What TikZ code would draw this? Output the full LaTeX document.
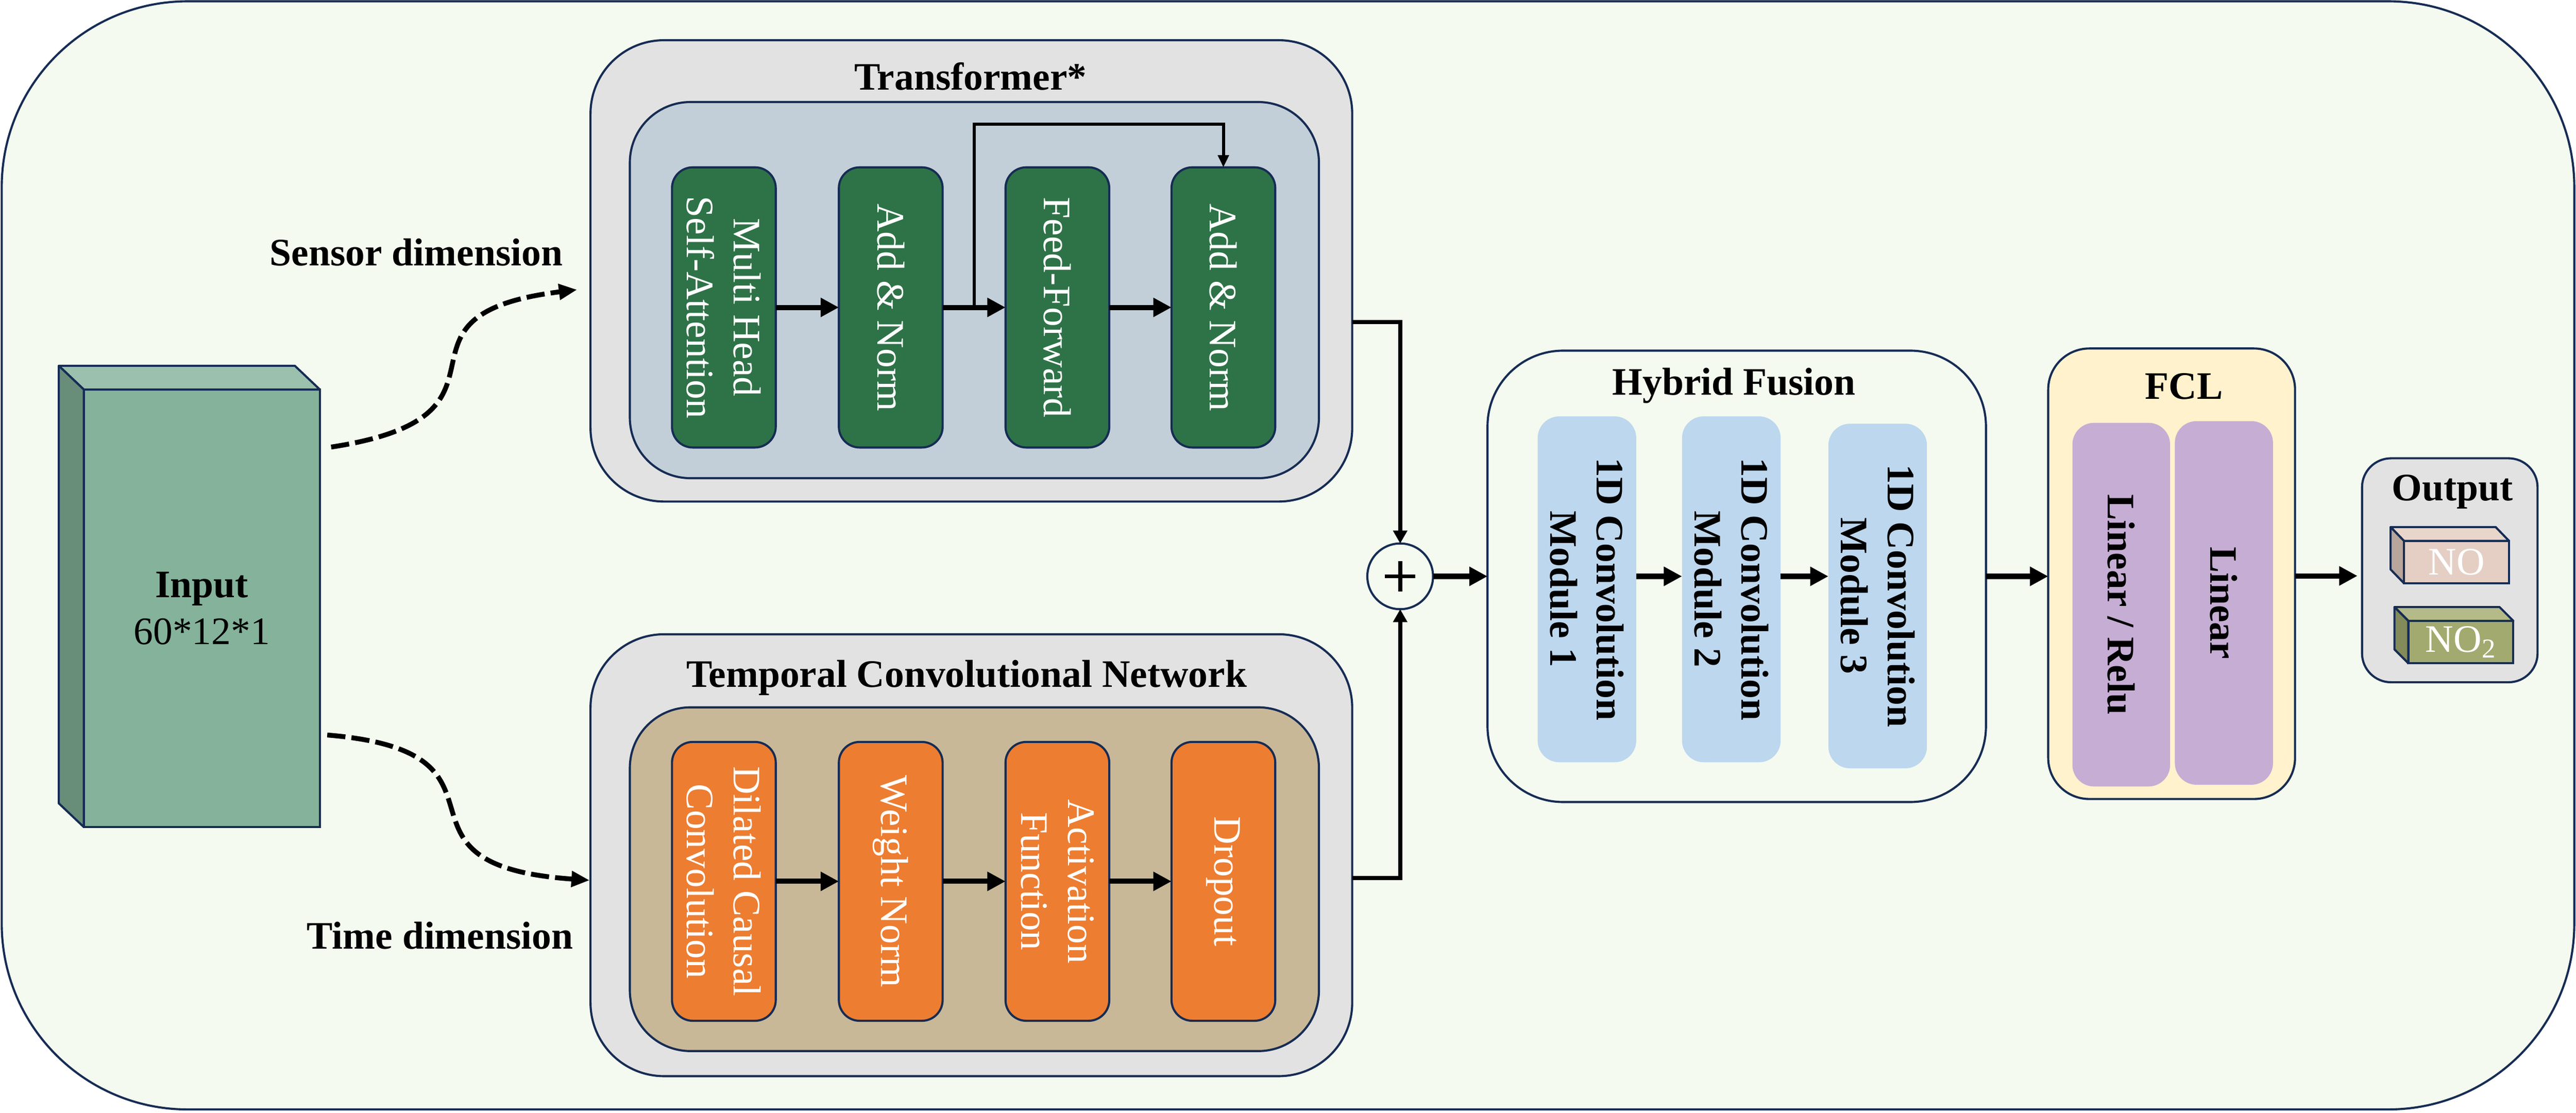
\documentclass[tikz,border=0pt]{standalone}
\usepackage{fontspec}
\setmainfont{Liberation Serif}
\usetikzlibrary{arrows.meta,calc}
\definecolor{bg}{HTML}{F4FAF0}
\definecolor{navy}{HTML}{162C54}
\definecolor{gbg}{HTML}{E2E2E2}
\definecolor{trin}{HTML}{C3CFD8}
\definecolor{grn}{HTML}{2E7347}
\definecolor{tanc}{HTML}{C8B898}
\definecolor{org}{HTML}{ED7D31}
\definecolor{lblue}{HTML}{BDD7EE}
\definecolor{ylw}{HTML}{FFF2CC}
\definecolor{prp}{HTML}{C6ADD4}
\definecolor{cubef}{HTML}{84B29A}
\definecolor{cubes}{HTML}{688E7A}
\definecolor{cubet}{HTML}{9BC0AD}
\definecolor{nof}{HTML}{E5CFC4}
\definecolor{nos}{HTML}{B8A59B}
\definecolor{not}{HTML}{E9D6CB}
\definecolor{ntf}{HTML}{A2AA6F}
\definecolor{nts}{HTML}{838B5B}
\definecolor{ntt}{HTML}{B4BB89}
\begin{document}
\begin{tikzpicture}[x=1cm,y=-1cm,
  every node/.style={font=\fontsize{25.6}{30.7}\selectfont, inner sep=0pt, outer sep=0pt},
  ttl/.style={font=\fontsize{25.6}{30.7}\selectfont\bfseries, anchor=base},
  lbl/.style={font=\fontsize{25.6}{30.7}\selectfont\bfseries, anchor=base},
  edge/.style={draw=navy, line width=1.4pt},
  container/.style={rectangle, edge, fill=gbg, rounded corners=1.7cm},
  innerbox/.style={rectangle, edge, rounded corners=1.4cm},
  blk/.style={rectangle, edge, rounded corners=0.48cm, minimum width=2.4cm},
  softblk/.style={rectangle, rounded corners=0.5cm},
  vtxt/.style={rotate=-90, align=center},
  flowarrow/.style={line width=3.4pt, -{Triangle[length=12pt,width=12pt]}},
  sumarrow/.style={line width=2.6pt, -{Triangle[length=8.5pt,width=9pt]}},
  skiparrow/.style={line width=2pt, -{Triangle[length=8pt,width=7pt]}},
  dasharrow/.style={line width=3.2pt, dash pattern=on 12pt off 4pt, -{Triangle[length=12pt,width=10pt]}}
]
\useasboundingbox (0,0) rectangle (59.59,25.74);
% outer frame
\node[rectangle, edge, fill=bg, rounded corners=4.3cm, minimum width=59.51cm, minimum height=25.63cm] (frame) at (29.795,12.845) {};

% input cube
\node[rectangle, edge, fill=cubef, minimum width=5.46cm, minimum height=10.12cm, align=center] (input) at (4.67,14.07) {\textbf{Input}\\60*12*1};
\draw[edge, fill=cubet, line join=round] (input.north west) -- ++(-0.58,-0.55) -- ([shift={(-0.58,-0.55)}]input.north east) -- (input.north east) -- cycle;
\draw[edge, fill=cubes, line join=round] (input.north west) -- ++(-0.58,-0.55) -- ([shift={(-0.58,-0.55)}]input.south west) -- (input.south west) -- cycle;

% dimension labels
\node[lbl] (sensorlbl) at (9.63,6.14) {Sensor dimension};
\node[lbl] (timelbl) at (10.18,21.95) {Time dimension};

% dashed arrows
\coordinate (ds1) at (7.66,10.34);
\coordinate (de1) at (13.35,6.70);
\coordinate (ds2) at (7.57,17.00);
\coordinate (de2) at (13.64,20.36);
\draw[dasharrow] (ds1) .. controls (12.5,9.6) and (8.5,7.3) .. (de1);
\draw[dasharrow] (ds2) .. controls (12.4,17.4) and (8.5,20.0) .. (de2);

% Transformer
\node[container, minimum width=17.62cm, minimum height=10.67cm] (tr) at (22.47,6.265) {};
\node[ttl] (trt) at (22.45,2.08) {Transformer*};
\node[innerbox, fill=trin, minimum width=15.94cm, minimum height=8.70cm] (tri) at (22.54,6.71) {};
\node[blk, fill=grn, minimum height=6.48cm] (g1) at (16.745,7.11) {};
\node[blk, fill=grn, minimum height=6.48cm] (g2) at (20.605,7.11) {};
\node[blk, fill=grn, minimum height=6.48cm] (g3) at (24.46,7.11) {};
\node[blk, fill=grn, minimum height=6.48cm] (g4) at (28.30,7.11) {};
\node[vtxt, text=white] (g1t) at (g1) {Multi Head\\Self-Attention};
\node[vtxt, text=white] (g2t) at (g2) {Add \& Norm};
\node[vtxt, text=white] (g3t) at (g3) {Feed-Forward};
\node[vtxt, text=white] (g4t) at (g4) {Add \& Norm};
\draw[flowarrow] (g1.east) -- (g2.west);
\draw[flowarrow] (g2.east) -- (g3.west);
\draw[flowarrow] (g3.east) -- (g4.west);
\draw[skiparrow] ($(g2.east)!0.5!(g3.west)$) |- ([yshift=1cm]g4.north) -- (g4.north);

% TCN
\node[container, minimum width=17.62cm, minimum height=10.22cm] (tcn) at (22.47,19.78) {};
\node[ttl] (tcnt) at (22.36,15.89) {Temporal Convolutional Network};
\node[innerbox, fill=tanc, minimum width=15.94cm, minimum height=7.95cm] (tcni) at (22.54,20.335) {};
\node[blk, fill=org, minimum height=6.45cm] (o1) at (16.745,20.385) {};
\node[blk, fill=org, minimum height=6.45cm] (o2) at (20.605,20.385) {};
\node[blk, fill=org, minimum height=6.45cm] (o3) at (24.46,20.385) {};
\node[blk, fill=org, minimum height=6.45cm] (o4) at (28.30,20.385) {};
\node[vtxt, text=white] (o1t) at (o1) {Dilated Causal\\Convolution};
\node[vtxt, text=white] (o2t) at (o2) {Weight Norm};
\node[vtxt, text=white] (o3t) at (o3) {Activation\\Function};
\node[vtxt, text=white] (o4t) at (o4) {Dropout};
\draw[flowarrow] (o1.east) -- (o2.west);
\draw[flowarrow] (o2.east) -- (o3.west);
\draw[flowarrow] (o3.east) -- (o4.west);

% sum
\node[circle, edge, fill=bg, minimum size=1.52cm] (plus) at (32.39,13.33) {};
\draw[line width=2.6pt] ([xshift=-0.35cm]plus.center) -- ([xshift=0.35cm]plus.center);
\draw[line width=2.6pt] ([yshift=-0.35cm]plus.center) -- ([yshift=0.35cm]plus.center);
\draw[sumarrow] ([yshift=-1.185cm]tr.east) -| (plus.north);
\draw[sumarrow] ([yshift=-0.53cm]tcn.east) -| (plus.south);

% Hybrid Fusion
\node[rectangle, edge, fill=bg, rounded corners=1.75cm, minimum width=11.53cm, minimum height=10.44cm] (hf) at (40.175,13.33) {};
\node[ttl] (hft) at (40.11,9.13) {Hybrid Fusion};
\node[softblk, fill=lblue, minimum width=2.28cm, minimum height=8.0cm] (b1) at (36.71,13.63) {};
\node[softblk, fill=lblue, minimum width=2.28cm, minimum height=8.0cm] (b2) at (40.05,13.63) {};
\node[softblk, fill=lblue, minimum width=2.28cm, minimum height=7.97cm] (b3) at (43.435,13.785) {};
\node[vtxt, font=\fontsize{25.6}{30.7}\selectfont\bfseries] (b1t) at (b1) {1D Convolution\\Module 1};
\node[vtxt, font=\fontsize{25.6}{30.7}\selectfont\bfseries] (b2t) at (b2) {1D Convolution\\Module 2};
\node[vtxt, font=\fontsize{25.6}{30.7}\selectfont\bfseries] (b3t) at (b3) {1D Convolution\\Module 3};
\draw[flowarrow] (plus.east) -- (hf.west |- plus.east);
\draw[flowarrow] (b1.east |- plus.east) -- (b2.west |- plus.east);
\draw[flowarrow] (b2.east |- plus.east) -- (b3.west |- plus.east);

% FCL
\node[rectangle, edge, fill=ylw, rounded corners=0.95cm, minimum width=5.71cm, minimum height=10.42cm] (fcl) at (50.235,13.27) {};
\node[ttl] (fclt) at (50.52,9.23) {FCL};
\node[softblk, fill=prp, minimum width=2.26cm, minimum height=8.41cm] (p1) at (49.07,13.985) {};
\node[softblk, fill=prp, minimum width=2.27cm, minimum height=8.41cm] (p2) at (51.445,13.945) {};
\node[vtxt, font=\fontsize{25.6}{30.7}\selectfont\bfseries] (p1t) at (p1) {Linear / Relu};
\node[vtxt, font=\fontsize{25.6}{30.7}\selectfont\bfseries] (p2t) at (p2) {Linear};
\draw[flowarrow] (hf.east |- plus.east) -- (fcl.west |- plus.east);

% Output
\node[rectangle, edge, fill=gbg, rounded corners=0.67cm, minimum width=4.06cm, minimum height=5.18cm] (out) at (56.67,13.19) {};
\node[ttl] (outt) at (56.73,11.58) {Output};
\node[rectangle, edge, fill=nof, minimum width=2.43cm, minimum height=0.98cm, text=white] (no) at (56.825,13.00) {NO};
\draw[edge, fill=not, line join=round] (no.north west) -- ++(-0.31,-0.32) -- ([shift={(-0.31,-0.32)}]no.north east) -- (no.north east) -- cycle;
\draw[edge, fill=nos, line join=round] (no.north west) -- ++(-0.31,-0.32) -- ([shift={(-0.31,-0.32)}]no.south west) -- (no.south west) -- cycle;
\node[rectangle, edge, fill=ntf, minimum width=2.43cm, minimum height=0.98cm, text=white] (notwo) at (56.925,14.85) {NO\textsubscript{2}};
\draw[edge, fill=ntt, line join=round] (notwo.north west) -- ++(-0.32,-0.32) -- ([shift={(-0.32,-0.32)}]notwo.north east) -- (notwo.north east) -- cycle;
\draw[edge, fill=nts, line join=round] (notwo.north west) -- ++(-0.32,-0.32) -- ([shift={(-0.32,-0.32)}]notwo.south west) -- (notwo.south west) -- cycle;
\draw[flowarrow, shorten >=3pt] ([yshift=-0.05cm]fcl.east) -- ([yshift=-0.05cm]fcl.east -| out.west);
\end{tikzpicture}
\end{document}
